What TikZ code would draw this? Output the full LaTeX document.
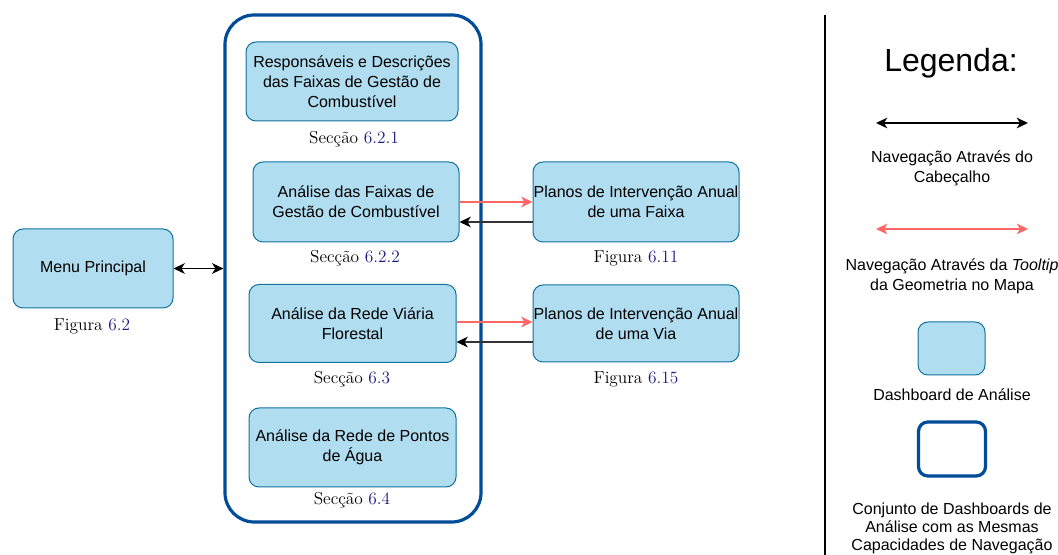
\documentclass[tikz,border=0pt]{standalone}
\usepackage{fontspec}
\setsansfont{Liberation Sans}
\usetikzlibrary{arrows.meta}
\definecolor{fillblue}{HTML}{B1DDF0}
\definecolor{strokeblue}{HTML}{10739E}
\definecolor{contblue}{HTML}{004C99}
\definecolor{redline}{HTML}{FF6666}
\definecolor{darkline}{HTML}{333333}
\definecolor{refnum}{HTML}{1A1A80}
\tikzset{
  navtip/.tip={Stealth[length=8.5pt,width=8pt,inset=2.5pt]},
  dbox/.style={draw=strokeblue, fill=fillblue, rounded corners=7.5pt, line width=0.75pt,
    align=center, inner sep=0pt, font=\sffamily\fontsize{12}{15}\selectfont, text=black},
  contbox/.style={draw=contblue, rounded corners=#1, line width=2.4pt, inner sep=0pt},
  capt/.style={font=\fontsize{13}{15}\selectfont, inner sep=0pt},
  legtext/.style={font=\sffamily\fontsize{12}{15}\selectfont, align=center, inner sep=0pt},
  blackarrow/.style={draw=darkline, line width=1.1pt, -{Stealth[length=8.5pt,width=8pt,inset=2.5pt,fill=black,color=black]}},
  redarrow/.style={draw=redline, line width=1.1pt, -navtip},
  legblack/.style={draw=black, line width=1.1pt, navtip-navtip},
  legred/.style={draw=redline, line width=1.1pt, navtip-navtip},
}
\newcommand{\rn}[1]{\textcolor{refnum}{#1}}
\begin{document}
\begin{tikzpicture}[x=0.75pt,y=-0.75pt]
\useasboundingbox (0,0) rectangle (1058,555);
% container
\node[contbox=22pt, minimum width=256*0.75pt, minimum height=507*0.75pt] (cont) at (353,268.5) {};
% boxes
\node[dbox, minimum width=160*0.75pt, minimum height=79*0.75pt] (menu) at (93,268.5) {Menu Principal};
\node[capt] (cmenu) at (92,326) {Figura \rn{6.2}};

\node[dbox, minimum width=212*0.75pt, minimum height=79*0.75pt] (b1) at (352,81.5) {Responsáveis e Descrições\\das Faixas de Gestão de\\Combustível};
\node[capt] (cb1) at (354,139) {Secção \rn{6.2.1}};

\node[dbox, minimum width=206*0.75pt, minimum height=80*0.75pt] (b2) at (356,202) {Análise das Faixas de\\Gestão de Combustível};
\node[capt] (cb2) at (355,258) {Secção \rn{6.2.2}};

\node[dbox, minimum width=207*0.75pt, minimum height=78*0.75pt] (b3) at (352.5,323.5) {Análise da Rede Viária\\Florestal};
\node[capt] (cb3) at (352,379) {Secção \rn{6.3}};

\node[dbox, minimum width=207*0.75pt, minimum height=79*0.75pt] (b4) at (352.5,447.5) {Análise da Rede de Pontos\\de Água};
\node[capt] (cb4) at (352,500) {Secção \rn{6.4}};

\node[dbox, minimum width=206*0.75pt, minimum height=80*0.75pt] (pa) at (636,202) {Planos de Intervenção Anual\\de uma Faixa};
\node[capt] (cpa) at (636,258) {Figura \rn{6.11}};

\node[dbox, minimum width=206*0.75pt, minimum height=77*0.75pt] (pb) at (636,323.5) {Planos de Intervenção Anual\\de uma Via};
\node[capt] (cpb) at (636,379) {Figura \rn{6.15}};

% connectors
\draw[legblack] (menu.east) -- (cont.west);
\draw[redarrow] (b2.east) -- (pa.west);
\draw[blackarrow] ([yshift=-15pt]pa.west) -- ([yshift=-15pt]b2.east);
\draw[redarrow] ([yshift=1.1pt]b3.east) -- ([yshift=1.1pt]pb.west);
\draw[blackarrow] ([yshift=-13.9pt]pb.west) -- ([yshift=-13.9pt]b3.east);

% legend
\coordinate (vtop) at (825,15);
\coordinate (vbot) at (825,555);
\draw[line width=0.8pt] (vtop) -- (vbot);
\node[font=\sffamily\fontsize{24}{28}\selectfont, inner sep=0pt] (legt) at (951,63) {Legenda:};
\coordinate (l1a) at (876,123);
\coordinate (l1b) at (1028,123);
\draw[legblack] (l1a) -- (l1b);
\node[legtext] (l1t) at (952,168) {Navegação Através do\\Cabeçalho};
\coordinate (l2a) at (876,229);
\coordinate (l2b) at (1028,229);
\draw[legred] (l2a) -- (l2b);
\node[legtext] (l2t) at (952,276) {Navegação Através da \textit{Tooltip}\\da Geometria no Mapa};
\node[dbox, minimum width=67*0.75pt, minimum height=53*0.75pt] (legbox) at (951.5,348.5) {};
\node[legtext] (l3t) at (952,395) {Dashboard de Análise};
\node[contbox=7pt, minimum width=67*0.75pt, minimum height=54*0.75pt] (legcont) at (952,449) {};
\node[legtext, font=\sffamily\fontsize{12}{13.5}\selectfont] (l4t) at (952,528) {Conjunto de Dashboards de\\Análise com as Mesmas\\Capacidades de Navegação};
\end{tikzpicture}
\end{document}
